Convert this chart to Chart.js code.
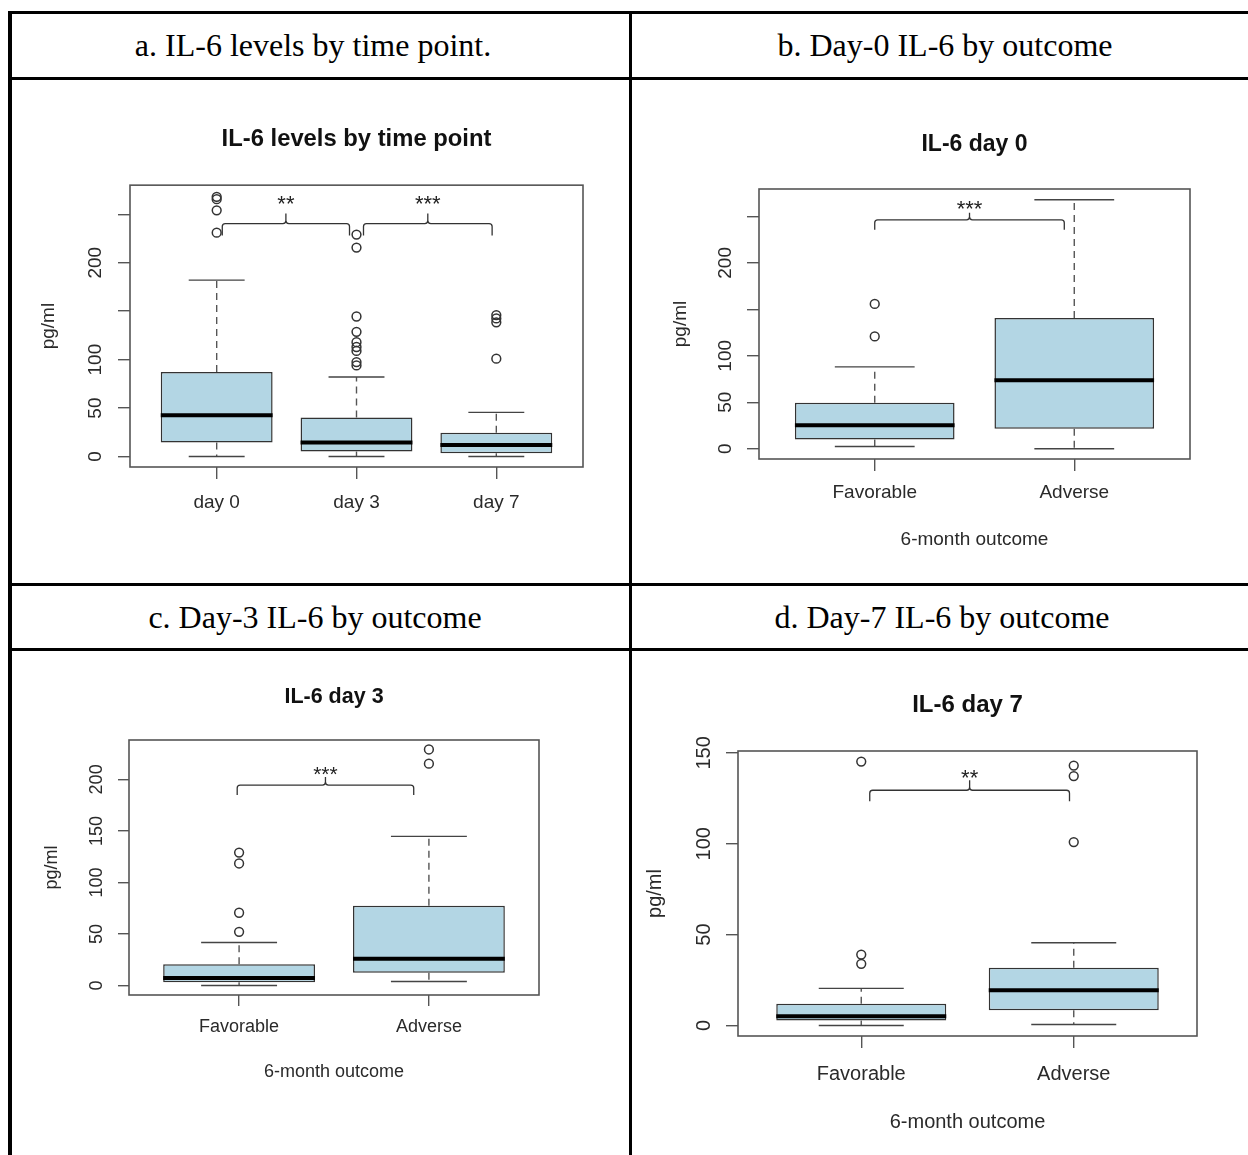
<!DOCTYPE html>
<html>
<head>
<meta charset="utf-8">
<script src="https://cdn.jsdelivr.net/npm/chart.js@4.4.1/dist/chart.umd.min.js"></script>
<style>
  html, body { margin: 0; padding: 0; background: #fff; }
  body { width: 1248px; height: 1155px; position: relative; overflow: hidden; }
  .rule { position: absolute; background: #000; z-index: 2; }
  .head { position: absolute; width: 600px; height: 63px; line-height: 63px; text-align: center;
          font-family: 'Liberation Serif', 'Times New Roman', serif; font-size: 32px; color: #000; white-space: nowrap; }
  canvas { position: absolute; }
</style>
</head>
<body>
<!-- table rules -->
<div class="rule" style="left:8px;top:11px;width:1250px;height:3px"></div>
<div class="rule" style="left:8px;top:77px;width:1250px;height:3px"></div>
<div class="rule" style="left:8px;top:583px;width:1250px;height:3px"></div>
<div class="rule" style="left:8px;top:648px;width:1250px;height:3px"></div>
<div class="rule" style="left:8px;top:11px;width:4px;height:1150px"></div>
<div class="rule" style="left:629px;top:11px;width:3px;height:1150px"></div>

<div class="head" style="left:13px;top:14px">a. IL-6 levels by time point.</div>
<div class="head" style="left:645px;top:14px">b. Day-0 IL-6 by outcome</div>
<div class="head" style="left:15px;top:586px">c. Day-3 IL-6 by outcome</div>
<div class="head" style="left:642px;top:586px">d. Day-7 IL-6 by outcome</div>

<canvas id="chartA" width="617" height="503" style="left:12px;top:80px"></canvas>
<canvas id="chartB" width="616" height="503" style="left:632px;top:80px"></canvas>
<canvas id="chartC" width="617" height="503" style="left:12px;top:652px"></canvas>
<canvas id="chartD" width="616" height="503" style="left:632px;top:652px"></canvas>

<script>
// a. all patients by time point
const daysA = ['day 0', 'day 3', 'day 7'];
const lowA = [0, 0, 0];
const q1A = [14.4, 5.1, 3.5];
const medA = [42.5, 14.4, 12];
const q3A = [87.3, 40.4, 24.6];
const highA = [182, 82, 45.6];
const outA = [[231, 254, 265.5, 268], [94, 97.5, 109, 113, 118, 128.7, 144.5, 215.6, 229], [101, 138.5, 142.5, 146]];
const yTicksA = [0, 50, 100, 150, 200, 250];
const yLabelsA = ['0', '50', '100', '', '200', ''];
const bracketsA = [[1.04, 1.95, 240.4, '**'], [2.05, 2.97, 240.4, '***']];

// b/c/d. by 6-month outcome
const outcomes = ['Favorable', 'Adverse'];

const lowB = [2.5, 0];
const q1B = [10.1, 21.6];
const medB = [25.2, 73.7];
const q3B = [49.6, 140.6];
const highB = [88.1, 268];
const outB = [[120.9, 155.8], []];
const yTicksB = [0, 50, 100, 150, 200, 250];
const yLabelsB = ['0', '50', '100', '', '200', ''];
const bracketsB = [[1.0, 1.95, 246.3, '***']];

const lowC = [0, 3.9];
const q1C = [3.2, 12.3];
const medC = [7.4, 25.9];
const q3C = [20.7, 77.3];
const highC = [41.7, 144.7];
const outC = [[52.1, 70.6, 118.4, 129], [215.2, 229]];
const yTicksC = [0, 50, 100, 150, 200];
const yLabelsC = ['0', '50', '100', '150', '200'];
const bracketsC = [[0.99, 1.92, 194.5, '***']];

const lowD = [0, 0.55];
const q1D = [2.75, 8.4];
const medD = [5.1, 19.4];
const q3D = [11.9, 31.7];
const highD = [20.4, 45.5];
const outD = [[33.9, 39, 145.2], [100.9, 137.2, 143]];
const yTicksD = [0, 50, 100, 150];
const yLabelsD = ['0', '50', '100', '150'];
const bracketsD = [[1.04, 1.98, 129.4, '**']];

const SANS = "'Liberation Sans', Arial, sans-serif";
const BOX_FILL = '#b3d6e4';
const AXIS = '#555';
const TXT = '#2a2a2a';

const framePlugin = {
  id: 'frame',
  afterDraw(chart) {
    const {ctx, chartArea: a} = chart;
    ctx.save();
    ctx.strokeStyle = AXIS;
    ctx.lineWidth = 1.6;
    ctx.strokeRect(a.left, a.top, a.right - a.left, a.bottom - a.top);
    ctx.restore();
  }
};

// significance braces, placed through the scales
const bracketPlugin = {
  id: 'brackets',
  afterDatasetsDraw(chart, args, o) {
    const {ctx, scales: {x, y}} = chart;
    ctx.save();
    ctx.strokeStyle = '#333';
    ctx.lineWidth = 1.3;
    ctx.fillStyle = '#222';
    ctx.font = o.starSize + 'px ' + SANS;
    ctx.textAlign = 'center';
    ctx.textBaseline = 'alphabetic';
    o.items.forEach(([from, to, level, label]) => {
      const x1 = x.getPixelForValue(from), x2 = x.getPixelForValue(to);
      const xm = (x1 + x2) / 2, yh = y.getPixelForValue(level), r = 3;
      ctx.beginPath();
      ctx.moveTo(x1, yh + o.leg);
      ctx.arcTo(x1, yh, x1 + r, yh, r);
      ctx.lineTo(xm - r, yh);
      ctx.quadraticCurveTo(xm, yh, xm, yh - r);
      ctx.lineTo(xm, yh - o.spike);
      ctx.moveTo(x2, yh + o.leg);
      ctx.arcTo(x2, yh, x2 - r, yh, r);
      ctx.lineTo(xm + r, yh);
      ctx.quadraticCurveTo(xm, yh, xm, yh - r);
      ctx.stroke();
      ctx.fillText(label, xm, yh - o.gap + 0.58 * o.starSize);
    });
    ctx.restore();
  }
};

function boxplot(id, p) {
  const n = p.cats.length;
  const pos = p.cats.map((c, i) => i + 1);
  const half = 0.4, cap = 0.2;
  const boxes = pos.map((x, i) => ({x: x, y: [p.q1[i], p.q3[i]]}));
  const medians = [], whiskers = [], caps = [], outliers = [];
  pos.forEach((x, i) => {
    medians.push({x: x - half, y: p.med[i]}, {x: x + half, y: p.med[i]}, {x: x, y: null});
    whiskers.push({x: x, y: p.q3[i]}, {x: x, y: p.high[i]}, {x: x, y: null},
                  {x: x, y: p.q1[i]}, {x: x, y: p.low[i]}, {x: x, y: null});
    caps.push({x: x - cap, y: p.high[i]}, {x: x + cap, y: p.high[i]}, {x: x, y: null},
              {x: x - cap, y: p.low[i]}, {x: x + cap, y: p.low[i]}, {x: x, y: null});
    p.out[i].forEach(v => outliers.push({x: x, y: v}));
  });

  return new Chart(document.getElementById(id), {
    type: 'bar',
    data: {
      datasets: [
        {type: 'line', data: medians, borderColor: '#000', borderWidth: 4, borderCapStyle: 'butt',
         pointRadius: 0, spanGaps: false, order: 1},
        {type: 'scatter', data: outliers, pointStyle: 'circle', pointRadius: 4.4,
         borderColor: '#333', borderWidth: 1.5, backgroundColor: 'rgba(0,0,0,0)', order: 2},
        {type: 'line', data: caps, borderColor: '#444', borderWidth: 1.4, pointRadius: 0, spanGaps: false, order: 3},
        {type: 'line', data: whiskers, borderColor: '#555', borderWidth: 1.4, borderDash: [7, 5],
         pointRadius: 0, spanGaps: false, order: 4},
        {data: boxes, backgroundColor: BOX_FILL, borderColor: '#333', borderWidth: 1.5, borderSkipped: false,
         categoryPercentage: 1, barPercentage: 0.8, order: 5}
      ]
    },
    options: {
      responsive: false,
      animation: false,
      events: [],
      layout: {padding: {left: 0, top: p.padTop, right: p.padRight, bottom: 0}},
      plugins: {
        legend: {display: false},
        tooltip: {enabled: false},
        title: {display: true, text: p.title, fullSize: false, color: '#111',
                font: {family: SANS, size: p.titleSize, weight: 'bold', lineHeight: 1.2},
                padding: {top: 0, bottom: p.titleGap}},
        brackets: {items: p.brackets, leg: p.leg, spike: p.spike, gap: p.gap, starSize: p.starSize}
      },
      scales: {
        x: {
          type: 'linear', min: 0.5 - 0.04 * n, max: n + 0.5 + 0.04 * n, offset: false, bounds: 'data',
          afterBuildTicks: s => { s.ticks = pos.map(v => ({value: v})); },
          afterFit: s => { s.height = p.xHeight; },
          grid: {display: true, drawOnChartArea: false, drawTicks: true, tickLength: p.tickLen,
                 color: AXIS, lineWidth: 1.4, offset: false},
          border: {display: false},
          ticks: {autoSkip: false, maxRotation: 0, color: TXT, padding: p.xPad,
                  font: {family: SANS, size: p.tickSize}, callback: (v, i) => p.cats[i]},
          title: {display: !!p.xTitle, text: p.xTitle || '', color: TXT,
                  font: {family: SANS, size: p.tickSize}, padding: {top: 0, bottom: p.xTitlePad || 0}}
        },
        y: {
          type: 'linear', min: p.yMin, max: p.yMax, bounds: 'data',
          afterBuildTicks: s => { s.ticks = p.yTicks.map(v => ({value: v})); },
          afterFit: s => { s.width = p.yWidth; },
          grid: {display: true, drawOnChartArea: false, drawTicks: true, tickLength: p.tickLen,
                 color: AXIS, lineWidth: 1.4},
          border: {display: false},
          ticks: {autoSkip: false, minRotation: 90, maxRotation: 90, crossAlign: 'center', padding: p.yPad,
                  color: TXT, font: {family: SANS, size: p.tickSize}, callback: (v, i) => p.yLabels[i]},
          title: {display: true, text: 'pg/ml', color: TXT,
                  font: {family: SANS, size: p.tickSize}, padding: {top: p.yTitlePad, bottom: 0}}
        }
      }
    },
    plugins: [framePlugin, bracketPlugin]
  });
}

boxplot('chartA', {
  title: 'IL-6 levels by time point', cats: daysA,
  low: lowA, q1: q1A, med: medA, q3: q3A, high: highA, out: outA,
  yTicks: yTicksA, yLabels: yLabelsA, yMin: -10.8, yMax: 280, brackets: bracketsA,
  padTop: 44.7, padRight: 46, titleSize: 23.8, titleGap: 31.9, yWidth: 118, xHeight: 116,
  tickSize: 19, tickLen: 12, yPad: 6.2, yTitlePad: 25.6, xPad: 12.6,
  leg: 12, spike: 10, gap: 25, starSize: 22
});

boxplot('chartB', {
  title: 'IL-6 day 0', cats: outcomes, xTitle: '6-month outcome',
  low: lowB, q1: q1B, med: medB, q3: q3B, high: highB, out: outB,
  yTicks: yTicksB, yLabels: yLabelsB, yMin: -11, yMax: 279.5, brackets: bracketsB,
  padTop: 51.2, padRight: 58, titleSize: 23, titleGap: 30.2, yWidth: 127, xHeight: 124,
  tickSize: 19, tickLen: 12, yPad: 5.2, yTitlePad: 37.6, xPad: 10.6, xTitlePad: 31.6,
  leg: 10, spike: 7, gap: 17, starSize: 22
});

boxplot('chartC', {
  title: 'IL-6 day 3', cats: outcomes, xTitle: '6-month outcome',
  low: lowC, q1: q1C, med: medC, q3: q3C, high: highC, out: outC,
  yTicks: yTicksC, yLabels: yLabelsC, yMin: -9.2, yMax: 238.2, brackets: bracketsC,
  padTop: 32.1, padRight: 90, titleSize: 21.5, titleGap: 30.1, yWidth: 117, xHeight: 160,
  tickSize: 18, tickLen: 11, yPad: 6, yTitlePad: 29.4, xPad: 10.2, xTitlePad: 72.2,
  leg: 10, spike: 8, gap: 16, starSize: 21
});

boxplot('chartD', {
  title: 'IL-6 day 7', cats: outcomes, xTitle: '6-month outcome',
  low: lowD, q1: q1D, med: medD, q3: q3D, high: highD, out: outD,
  yTicks: yTicksD, yLabels: yLabelsD, yMin: -5.8, yMax: 151, brackets: bracketsD,
  padTop: 38.6, padRight: 51, titleSize: 24, titleGap: 31.6, yWidth: 106, xHeight: 119,
  tickSize: 20, tickLen: 12, yPad: 5.3, yTitlePad: 11.6, xPad: 14, xTitlePad: 21,
  leg: 11, spike: 10, gap: 18, starSize: 22
});
</script>
</body>
</html>
